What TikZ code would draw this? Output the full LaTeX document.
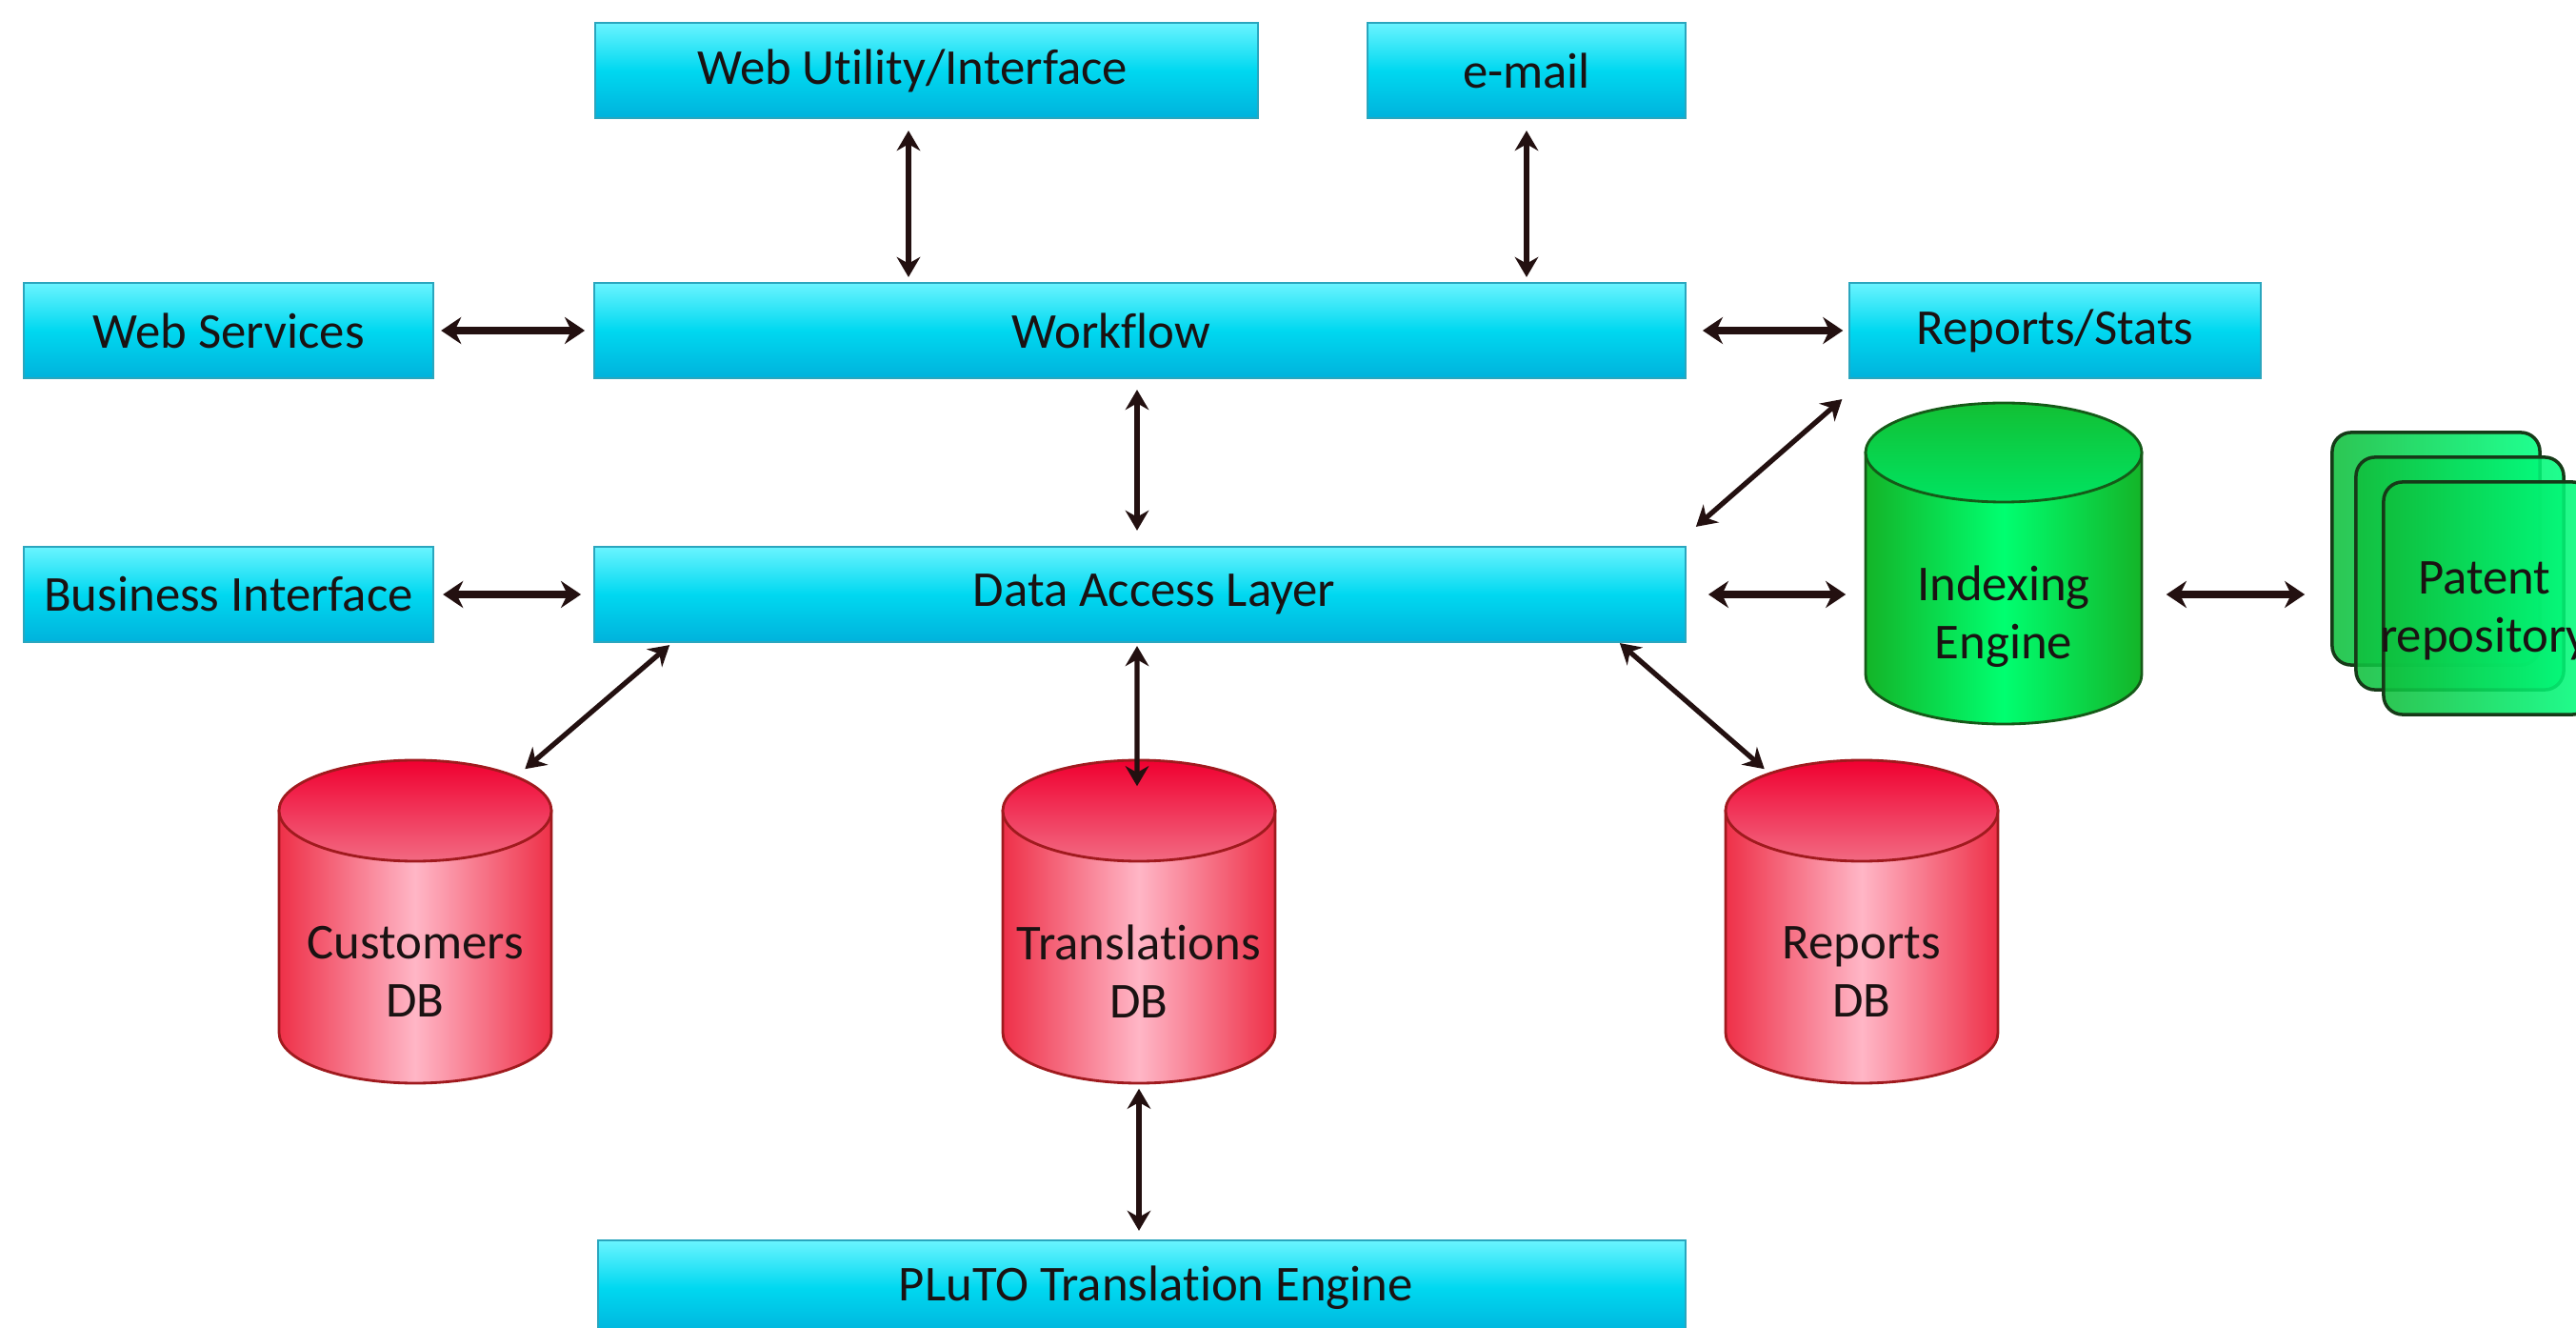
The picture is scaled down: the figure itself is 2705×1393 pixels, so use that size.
\documentclass[tikz,border=0pt]{standalone}
\usepackage{fontspec}
\setmainfont{Carlito}[Ligatures=NoCommon]
\usepackage{tikz}
\usetikzlibrary{arrows.meta}

\definecolor{boxtop}{HTML}{6AF4FF}
\definecolor{boxmid}{HTML}{00D8F0}
\definecolor{boxbot}{HTML}{00B2DC}
\definecolor{boxline}{HTML}{2AA6BE}
\definecolor{dbside}{HTML}{EE3048}
\definecolor{dbmid}{HTML}{FFB6C6}
\definecolor{dbcaptop}{HTML}{F00030}
\definecolor{dbcapbot}{HTML}{F26A82}
\definecolor{dbline}{HTML}{A01A1E}
\definecolor{ixside}{HTML}{14B428}
\definecolor{ixmid}{HTML}{00FF70}
\definecolor{ixcaptop}{HTML}{12C034}
\definecolor{ixcapbot}{HTML}{00E462}
\definecolor{ixline}{HTML}{155A18}
\definecolor{patleft}{HTML}{10BE3C}
\definecolor{patright}{HTML}{00FF80}
\definecolor{patline}{HTML}{163A18}
\definecolor{linkcol}{HTML}{231010}
\definecolor{textcol}{HTML}{1A1212}

\begin{document}
\begin{tikzpicture}[x=0.01cm,y=0.01cm,
  box/.style={rectangle,draw=boxline,line width=0.6pt,top color=boxtop,bottom color=boxbot,middle color=boxmid,
    minimum height=1cm,inner sep=0pt,text=textcol,font=\fontsize{15}{18}\selectfont},
  cylbox/.style={rectangle,inner sep=0pt,minimum width=2.87cm,minimum height=3.39cm},
  dbtext/.style={align=center,inner sep=0pt,text=textcol,font=\fontsize{15}{17.4}\selectfont},
  patbox/.style={rectangle,rounded corners=0.2cm,draw=patline,line width=1pt,left color=patleft,right color=patright,
    fill opacity=0.88,minimum width=2.18cm,minimum height=2.44cm},
  vlink/.style={{Stealth[length=6pt,width=7pt]}-{Stealth[length=6pt,width=7pt]},line width=1.5pt,draw=linkcol},
  hlink/.style={{Stealth[length=6pt,width=8pt]}-{Stealth[length=6pt,width=8pt]},line width=2.4pt,draw=linkcol}]
\useasboundingbox (0,0) rectangle (2705,1393);
\clip (0,0) rectangle (2705,1393);

\node[box,minimum width=6.96cm] (webui) at (973,1319) {\hspace*{-0.3cm}Web Utility/Interface};
\node[box,minimum width=3.34cm] (email) at (1603,1319) {e-mail};
\node[box,minimum width=4.30cm] (websvc) at (240,1046) {Web Services};
\node[box,minimum width=11.45cm] (wflow) at (1197,1046) {\hspace*{-0.6cm}Workflow};
\node[box,minimum width=4.31cm] (repstat) at (2158,1046) {Reports/Stats};
\node[box,minimum width=4.30cm] (busif) at (240,769) {Business Interface};
\node[box,minimum width=11.45cm] (dal) at (1197,769) {Data Access Layer\hspace*{-0.3cm}};
\node[box,minimum width=11.42cm] (pluto) at (1199,41) {PLuTO Translation Engine\hspace*{-0.3cm}};

\foreach \nm/\cx/\txt in {custdb/436/Customers,transdb/1196/Translations,repdb/1955/Reports}{
  \shade[left color=dbside,right color=dbside,middle color=dbmid,draw=dbline,line width=0.8pt]
    (\cx-143,542) -- (\cx-143,309) arc[start angle=180,end angle=360,x radius=143,y radius=53] -- (\cx+143,542) -- cycle;
  \shade[top color=dbcaptop,bottom color=dbcapbot,draw=dbline,line width=0.8pt]
    (\cx,542) ellipse[x radius=143,y radius=53];
  \node[cylbox] (\nm) at (\cx,425.5) {};
  \node[dbtext] (\nm-txt) at (\cx,373) {\txt\\DB};
}

\shade[left color=ixside,right color=ixside,middle color=ixmid,draw=ixline,line width=0.8pt]
  (1959,918) -- (1959,685) arc[start angle=180,end angle=360,x radius=145,y radius=52] -- (2249,918) -- cycle;
\shade[top color=ixcaptop,bottom color=ixcapbot,draw=ixline,line width=0.8pt]
  (2104,918) ellipse[x radius=145,y radius=52];
\node[cylbox,minimum width=2.9cm,minimum height=3.37cm] (idx) at (2104,801.5) {};
\node[dbtext] (idx-txt) at (2104,746) {Indexing\\Engine};

\node[patbox] (pat1) at (2558,817) {};
\node[patbox] (pat2) at (2583,791) {};
\node[patbox] (pat3) at (2612,765) {};
\node[dbtext] (pat3-txt) at (2609,752) {Patent\\repository};

\draw[vlink,shorten <=0.12cm,shorten >=0.05cm] ([xshift=-0.19cm]webui.south) -- ([xshift=-0.19cm]webui.south |- wflow.north);
\draw[vlink,shorten <=0.12cm,shorten >=0.05cm] (email.south) -- (email.south |- wflow.north);
\draw[hlink,shorten <=0.07cm,shorten >=0.09cm] (websvc) -- (wflow);
\draw[hlink,shorten <=0.17cm,shorten >=0.06cm] (wflow) -- (repstat);
\draw[vlink,shorten <=0.11cm,shorten >=0.16cm] ([xshift=-0.03cm]wflow.south) -- ([xshift=-0.03cm]dal.north);
\draw[hlink,shorten <=0.09cm,shorten >=0.13cm] (busif) -- (dal);
\draw[vlink] ([shift={(0.1cm,0.2cm)}]dal.north east) -- ([shift={(-0.07cm,-0.21cm)}]repstat.south west);
\draw[hlink,shorten <=0.23cm,shorten >=0.2cm] (dal.east) -- (dal.east -| idx.west);
\draw[hlink,shorten <=0.25cm,shorten >=0.27cm] (dal.east -| idx.east) -- (dal.east -| pat1.west);
\draw[vlink] ([shift={(0.8cm,-0.02cm)}]dal.south west) -- ([shift={(-0.29cm,-0.1cm)}]custdb.north east);
\draw[vlink,shorten <=0.03cm] ([xshift=-0.03cm]dal.south) -- ([xshift=-0.02cm,yshift=-0.28cm]transdb.north);
\draw[vlink] ([xshift=-0.7cm]dal.south east) -- ([shift={(0.42cm,-0.1cm)}]repdb.north west);
\draw[vlink,shorten <=0.05cm,shorten >=0.09cm] (transdb.south) -- (transdb.south |- pluto.north);
\end{tikzpicture}
\end{document}
